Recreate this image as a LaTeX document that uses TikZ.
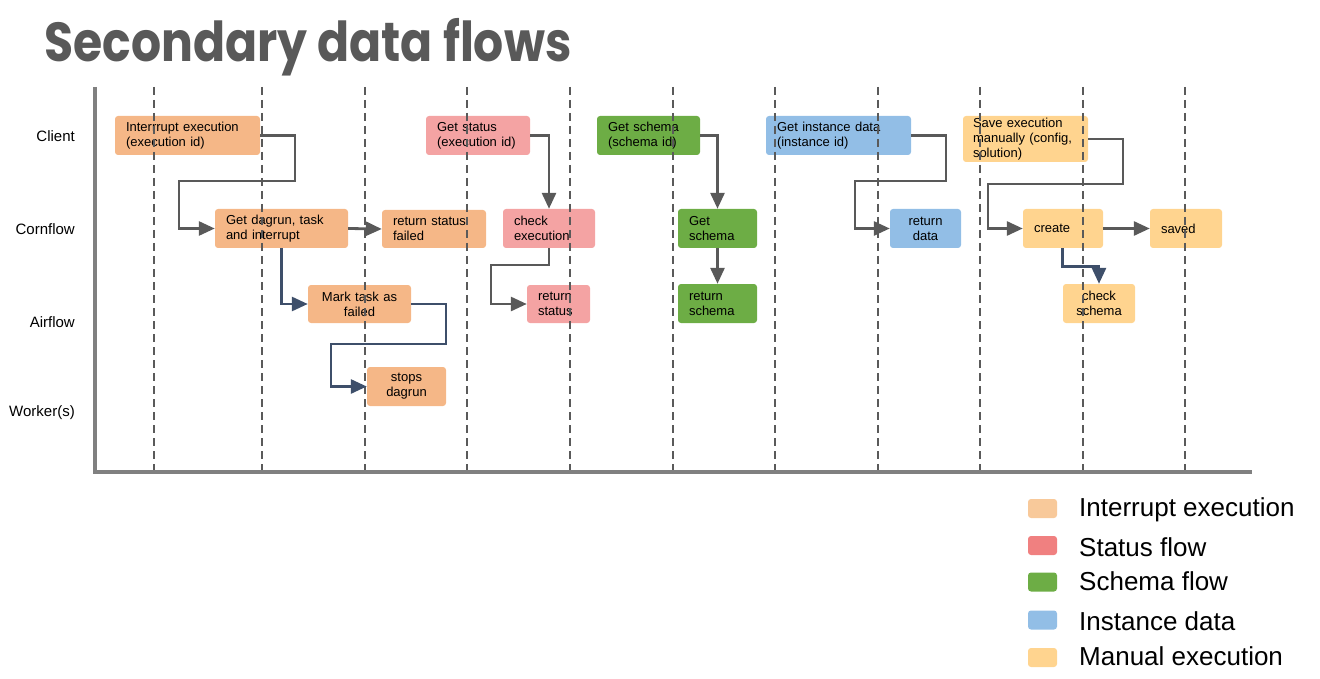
\documentclass[tikz,border=0pt]{standalone}
\usepackage{fontspec}
\setmainfont{Liberation Sans}
\newfontfamily\titlefont{Poppins}
\usetikzlibrary{arrows.meta}
\definecolor{intc}{HTML}{F5B787}
\definecolor{intl}{HTML}{F8C99A}
\definecolor{stac}{HTML}{F4A3A3}
\definecolor{stal}{HTML}{F08080}
\definecolor{schc}{HTML}{6DAD45}
\definecolor{insc}{HTML}{92BEE6}
\definecolor{manc}{HTML}{FFD48F}
\definecolor{axisc}{HTML}{808080}
\definecolor{dashc}{HTML}{5A5A5A}
\definecolor{connc}{HTML}{595959}
\definecolor{connb}{HTML}{3E4F6A}
\definecolor{titlec}{HTML}{595959}
\begin{document}
\begin{tikzpicture}[x=1pt,y=-1pt,
  flowbox/.style={rounded corners=3pt, inner xsep=11pt, inner ysep=0pt,
    font=\fontsize{13}{15}\selectfont, align=left, anchor=center},
  cbox/.style={flowbox, align=center},
  lane/.style={anchor=east, inner sep=0pt, font=\fontsize{15}{18}\selectfont},
  legtext/.style={anchor=west, inner sep=0pt, font=\fontsize{26}{30}\selectfont},
  swatch/.style={rounded corners=3pt, minimum width=29pt, minimum height=19pt, inner sep=0pt},
  conn/.style={draw=connc, line width=2.8pt, -{Triangle[length=16pt,width=14pt]}},
  connblue/.style={conn, draw=connb},
  guide/.style={draw=dashc, line width=2pt, dash pattern=on 8pt off 5pt},
  axisline/.style={draw=axisc, line width=4pt}
]
\useasboundingbox (0,0) rectangle (1320,679);

% title
\node[anchor=base west, inner sep=0pt, text=titlec, xscale=0.86, font=\titlefont\bfseries\fontsize{55}{60}\selectfont] (title) at (44,62) {Secondary data flows};

% lane labels
\node[lane] (lclient) at (75,136) {Client};
\node[lane] (lcorn) at (75,229) {Cornflow};
\node[lane] (lair) at (75,322) {Airflow};
\node[lane] (lwork) at (75,413) {Worker(s)};

% boxes
\node[flowbox, fill=intc, minimum width=145pt, text width=123pt, minimum height=39pt] (b1) at (187.5,135.5) {Interrrupt execution\\(execution id)};
\node[flowbox, fill=intc, minimum width=133pt, text width=111pt, minimum height=39pt] (b2) at (281.5,228.5) {Get dagrun, task\\and interrupt};
\node[flowbox, fill=intc, minimum width=104pt, text width=82pt, minimum height=38pt] (b3) at (434,229) {return status\\failed};
\node[cbox, fill=intc, minimum width=103pt, text width=81pt, minimum height=38pt] (b4) at (359.5,304) {Mark task as\\failed};
\node[cbox, fill=intc, minimum width=79pt, text width=57pt, minimum height=39pt] (b5) at (406.5,386.5) {stops\\dagrun};

\node[flowbox, fill=stac, minimum width=104pt, text width=82pt, minimum height=39pt] (b6) at (478,135.5) {Get status\\(execution id)};
\node[flowbox, fill=stac, minimum width=92pt, text width=70pt, minimum height=39pt] (b7) at (549,228.5) {check\\execution};
\node[flowbox, fill=stac, minimum width=63pt, text width=41pt, minimum height=38pt] (b8) at (558.5,304) {return\\status};

\node[flowbox, fill=schc, minimum width=103pt, text width=81pt, minimum height=39pt] (b9) at (648.5,135.5) {Get schema\\(schema id)};
\node[flowbox, fill=schc, minimum width=79pt, text width=57pt, minimum height=39pt] (b10) at (717.5,228.5) {Get\\schema};
\node[flowbox, fill=schc, minimum width=79pt, text width=57pt, minimum height=39pt] (b11) at (717.5,303.5) {return\\schema};

\node[flowbox, fill=insc, minimum width=145pt, text width=123pt, minimum height=39pt] (b12) at (838.5,135.5) {Get instance data\\(instance id)};
\node[cbox, fill=insc, minimum width=71pt, text width=49pt, minimum height=39pt] (b13) at (925.5,228.5) {return\\data};

\node[flowbox, fill=manc, minimum width=125pt, text width=105pt, inner xsep=10pt, minimum height=46pt] (b14) at (1025.5,139) {Save execution\\manually (config,\\solution)};
\node[flowbox, fill=manc, minimum width=80pt, text width=58pt, minimum height=39pt] (b15) at (1063,228.5) {create};
\node[flowbox, fill=manc, minimum width=72pt, text width=50pt, minimum height=39pt] (b16) at (1186,228.5) {saved};
\node[cbox, fill=manc, minimum width=72pt, text width=50pt, minimum height=39pt] (b17) at (1099,303.5) {check\\schema};

% guides
\foreach \gx in {154,262,365,467,570,673,775,878,980,1083,1185}
  \draw[guide] (\gx,87) -- (\gx,470);

% axes
\draw[axisline] (95,87) -- (95,472) -- (1252,472);

% connectors
\draw[conn] (b1.east) -- (295,135.5) -- (295,181) -- (179,181) |- (b2.west);
\draw[conn] (b2.east) -- (b3.west);
\draw[connblue] ([xshift=67pt]b2.south west) |- (b4.west);
\draw[connblue] (b4.east) -- (446,304) -- (446,344) -- (331,344) |- (b5.west);

\draw[conn] (b6.east) -| (b7.north);
\draw[conn] (b7.south) |- (491,265) |- (b8.west);

\draw[conn] (b9.east) -| (b10.north);
\draw[conn] (b10.south) -- (b11.north);

\draw[conn] (b12.east) -- (946,135.5) -- (946,181) -- (855,181) |- (b13.west);

\draw[conn] (b14.east) -- (1123,139) -- (1123,184) -- (988,184) |- (b15.west);
\draw[conn] (b15.east) -- (b16.west);
\draw[connblue] ([xshift=40pt]b15.south west) -- ++(0,18) -| (b17.north);

% legend
\node[swatch, fill=intl] (s1) at (1042.5,508.5) {};
\node[swatch, fill=stal] (s2) at (1042.5,545.5) {};
\node[swatch, fill=schc] (s3) at (1042.5,582) {};
\node[swatch, fill=insc] (s4) at (1042.5,620) {};
\node[swatch, fill=manc] (s5) at (1042.5,657.5) {};
\node[legtext] (t1) at (1079,510) {Interrupt execution};
\node[legtext] (t2) at (1079,547) {Status flow};
\node[legtext] (t3) at (1079,581) {Schema flow};
\node[legtext] (t4) at (1079,621) {Instance data};
\node[legtext] (t5) at (1079,656) {Manual execution};
\end{tikzpicture}
\end{document}
